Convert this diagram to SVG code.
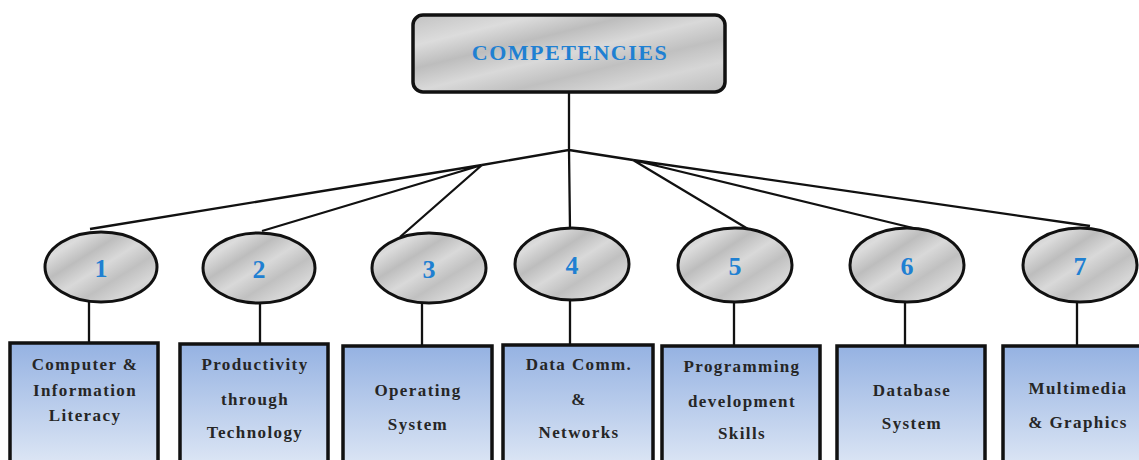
<svg xmlns="http://www.w3.org/2000/svg" width="1139" height="460" viewBox="0 0 1139 460">
<defs>
<linearGradient id="metal" x1="0" y1="0" x2="1" y2="1">
<stop offset="0" stop-color="#c2c2c2"/>
<stop offset="0.2" stop-color="#dcdcdc"/>
<stop offset="0.35" stop-color="#bdbdbd"/>
<stop offset="0.5" stop-color="#d9d9d9"/>
<stop offset="0.65" stop-color="#c0c0c0"/>
<stop offset="0.8" stop-color="#d6d6d6"/>
<stop offset="1" stop-color="#bcbcbc"/>
</linearGradient>
<linearGradient id="blue" x1="0" y1="0" x2="0" y2="1">
<stop offset="0" stop-color="#95b2e2"/>
<stop offset="1" stop-color="#e2eaf6"/>
</linearGradient>
<style>
.conn{stroke:#111;stroke-width:2.3;fill:none}
.top{fill:url(#metal);stroke:#111;stroke-width:3.5}
.ell{fill:url(#metal);stroke:#111;stroke-width:3}
.box{fill:url(#blue);stroke:#111;stroke-width:3.5}
.title{font-family:"Liberation Serif",serif;font-weight:bold;font-size:22px;fill:#1f80d2;letter-spacing:1.5px;text-anchor:middle}
.num{font-family:"Liberation Serif",serif;font-weight:bold;font-size:26px;fill:#1f80d2;text-anchor:middle}
.lbl{font-family:"Liberation Serif",serif;font-weight:bold;font-size:17px;fill:#262626;letter-spacing:1.4px;text-anchor:middle}
</style>
</defs>
<rect width="1139" height="460" fill="#ffffff"/>
<g id="connectors">
<path class="conn" d="M569 92V150L482 165M569 150L633 160M569 150L570 229"/>
<path class="conn" d="M482 165L90 229M482 165L262 231M482 165L400 237"/>
<path class="conn" d="M633 160L748 229M633 160L913 228M633 160L1090 226"/>
<path class="conn" d="M89 302V343M260 303V344M422 303V346M570 300V345M734 302V346M905 302V346M1077 301V346"/>
</g>
<g id="competencies">
<rect class="top" x="413" y="15" width="312" height="77" rx="10"/>
<text class="title" x="570" y="60">COMPETENCIES</text>
</g>
<g id="n1"><ellipse class="ell" cx="101" cy="267" rx="56" ry="35"/><text class="num" x="101" y="277">1</text></g>
<g id="n2"><ellipse class="ell" cx="259" cy="268" rx="56" ry="35"/><text class="num" x="259" y="278">2</text></g>
<g id="n3"><ellipse class="ell" cx="429" cy="268" rx="57" ry="35"/><text class="num" x="429" y="278">3</text></g>
<g id="n4"><ellipse class="ell" cx="572" cy="264" rx="57" ry="36"/><text class="num" x="572" y="274">4</text></g>
<g id="n5"><ellipse class="ell" cx="735" cy="265" rx="57" ry="37"/><text class="num" x="735" y="275">5</text></g>
<g id="n6"><ellipse class="ell" cx="907" cy="265" rx="57" ry="37"/><text class="num" x="907" y="275">6</text></g>
<g id="n7"><ellipse class="ell" cx="1080" cy="265" rx="57" ry="37"/><text class="num" x="1080" y="275">7</text></g>
<g id="b1"><rect class="box" x="10" y="343" width="148" height="130"/>
<text class="lbl" x="85" y="370">Computer &amp;</text><text class="lbl" x="85" y="396">Information</text><text class="lbl" x="85" y="421">Literacy</text></g>
<g id="b2"><rect class="box" x="180" y="344" width="148" height="130"/>
<text class="lbl" x="255" y="370">Productivity</text><text class="lbl" x="255" y="405">through</text><text class="lbl" x="255" y="438">Technology</text></g>
<g id="b3"><rect class="box" x="343" y="346" width="149" height="130"/>
<text class="lbl" x="418" y="396">Operating</text><text class="lbl" x="418" y="430">System</text></g>
<g id="b4"><rect class="box" x="503" y="345" width="150" height="130"/>
<text class="lbl" x="579" y="370">Data Comm.</text><text class="lbl" x="579" y="405">&amp;</text><text class="lbl" x="579" y="438">Networks</text></g>
<g id="b5"><rect class="box" x="662" y="346" width="158" height="130"/>
<text class="lbl" x="742" y="372">Programming</text><text class="lbl" x="742" y="407">development</text><text class="lbl" x="742" y="439">Skills</text></g>
<g id="b6"><rect class="box" x="837" y="346" width="148" height="130"/>
<text class="lbl" x="912" y="396">Database</text><text class="lbl" x="912" y="429">System</text></g>
<g id="b7"><rect class="box" x="1003" y="346" width="150" height="130"/>
<text class="lbl" x="1078" y="394">Multimedia</text><text class="lbl" x="1078" y="428">&amp; Graphics</text></g>
</svg>
